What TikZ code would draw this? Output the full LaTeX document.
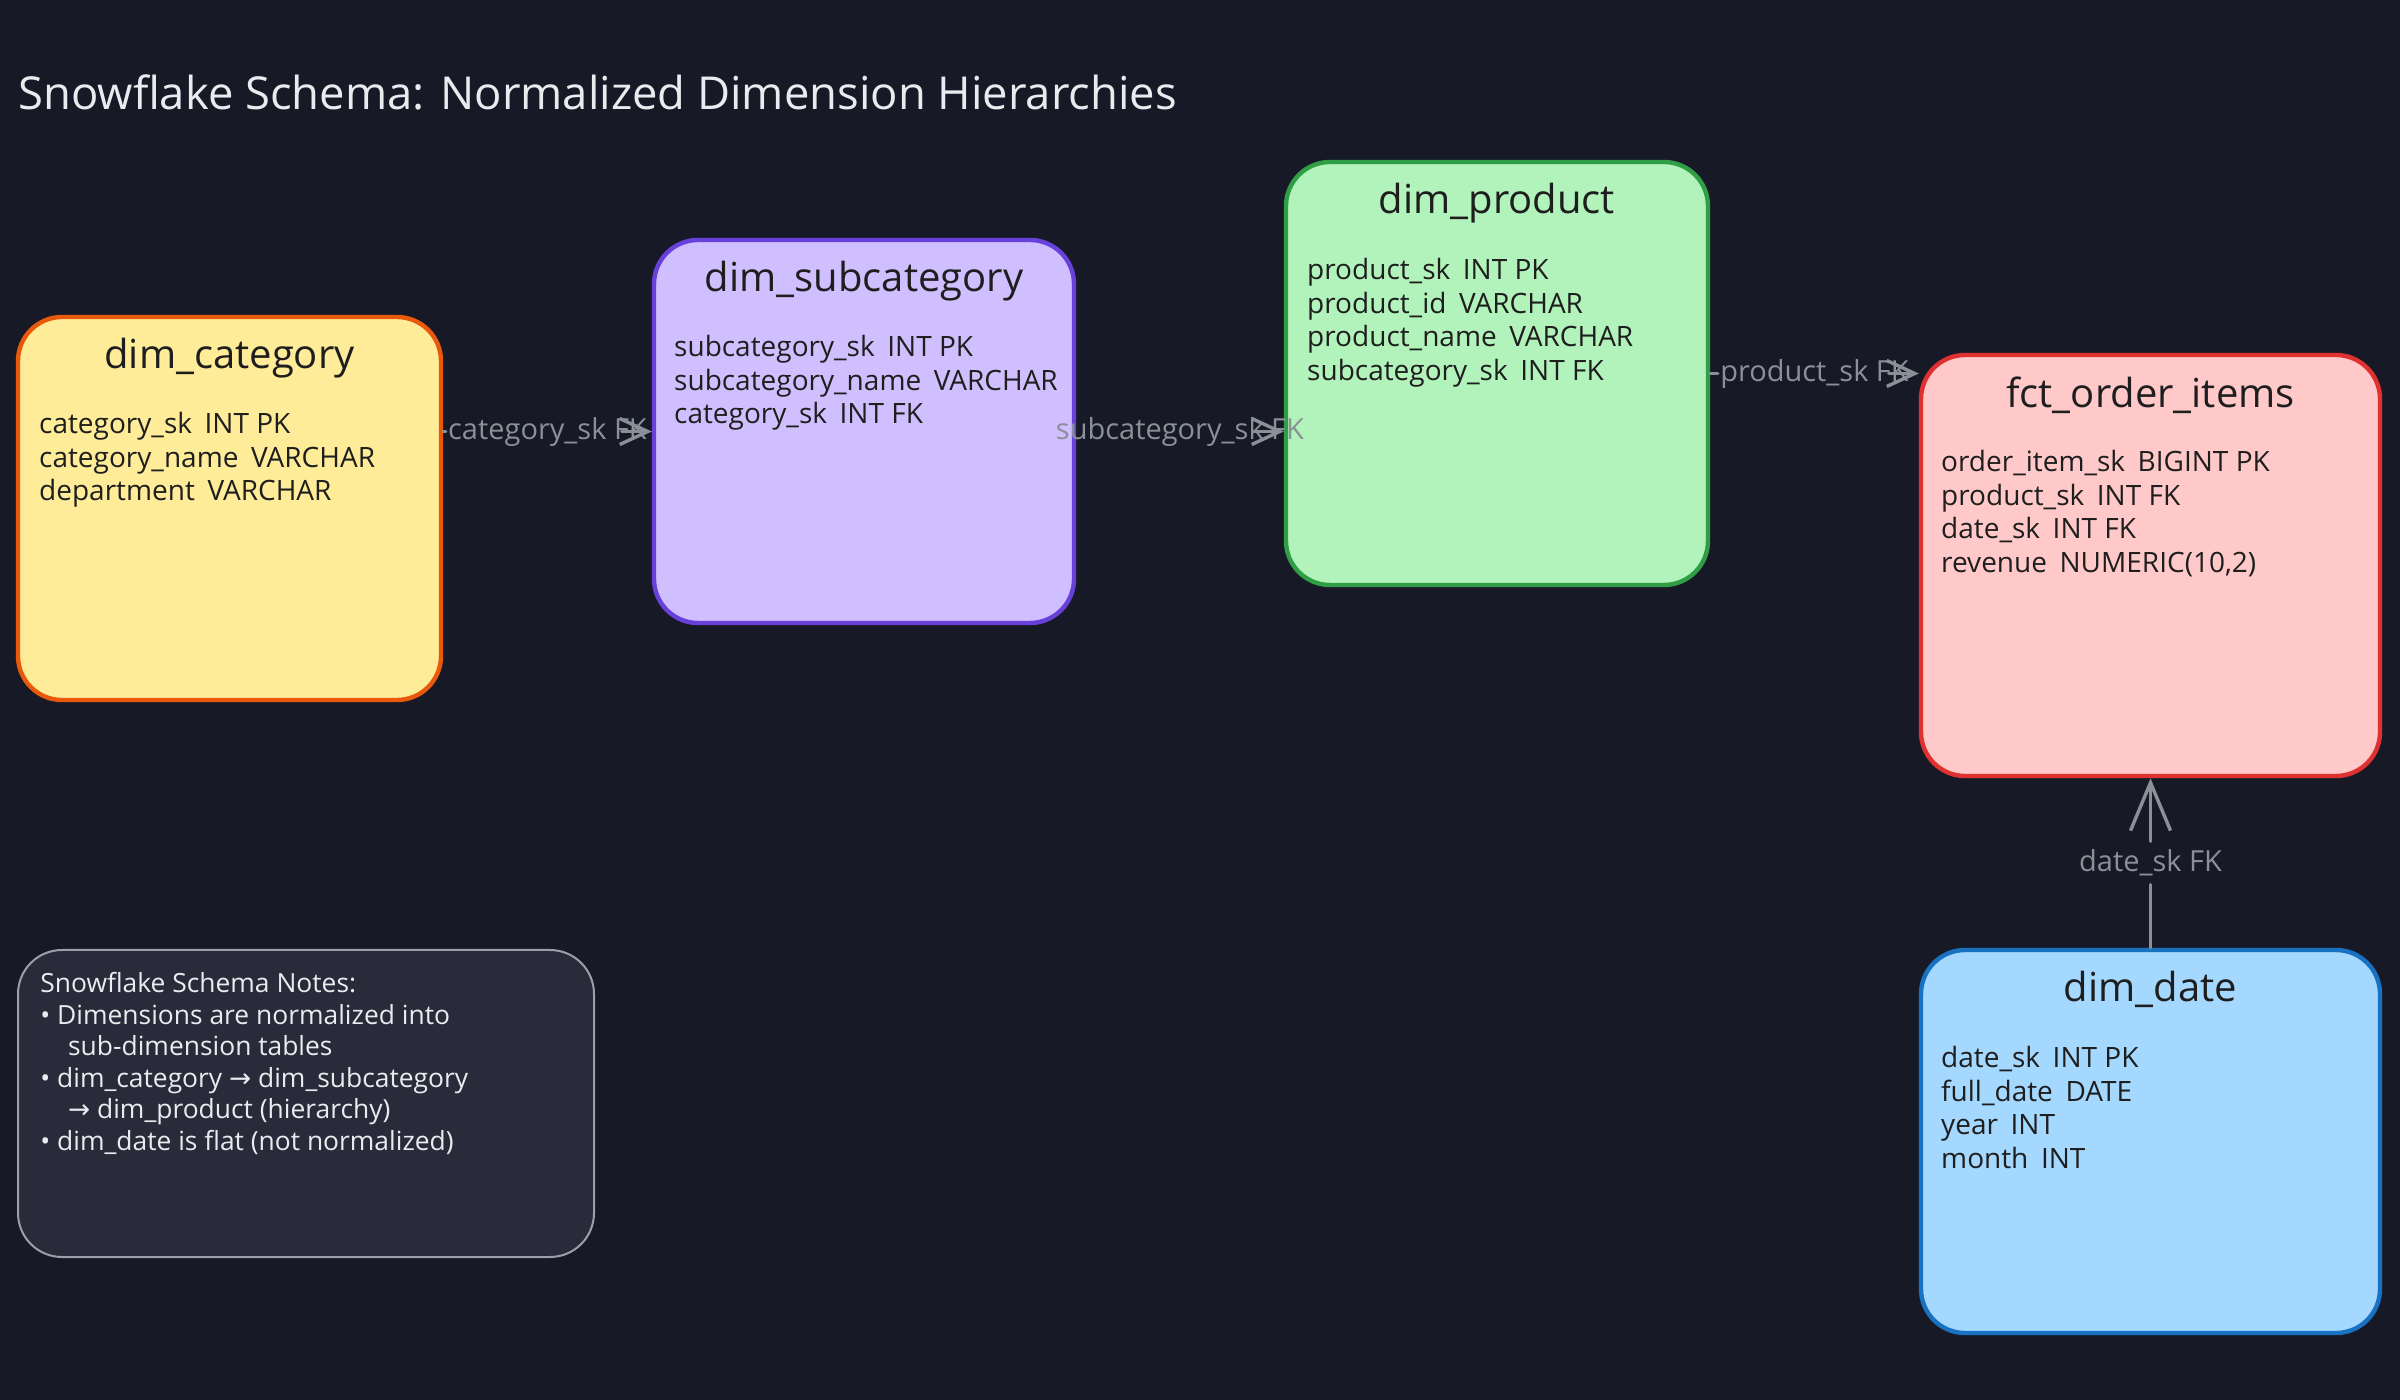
\documentclass[tikz,border=0pt]{standalone}
\usepackage{fontspec}
\setmainfont{Open Sans}
\newfontfamily\symfont{DejaVu Sans}
\usetikzlibrary{arrows.meta,calc}
\definecolor{bg}{HTML}{181926}
\definecolor{titlec}{HTML}{E9ECEF}
\definecolor{ink}{HTML}{1E1E1E}
\definecolor{catF}{HTML}{FFEC99}
\definecolor{catS}{HTML}{E8590C}
\definecolor{subF}{HTML}{D0BFFF}
\definecolor{subS}{HTML}{6741D9}
\definecolor{prodF}{HTML}{B2F2BB}
\definecolor{prodS}{HTML}{2F9E44}
\definecolor{fctF}{HTML}{FFC9C9}
\definecolor{fctS}{HTML}{E03131}
\definecolor{dateF}{HTML}{A5D8FF}
\definecolor{dateS}{HTML}{1971C2}
\definecolor{noteF}{HTML}{2A2A3A}
\definecolor{noteS}{HTML}{9AA0A8}
\definecolor{fkgray}{HTML}{8A9098}
\newcommand\colgap{\hspace{0.45em}}
\newcommand\arr{{\symfont →}}
\tikzset{
  tbl/.style={draw, line width=2.2pt, rounded corners=22pt, inner sep=0pt},
  tbltitle/.style={text=ink, inner sep=0pt, font=\fontsize{20}{24}\selectfont},
  fields/.style={text=ink, inner sep=0pt, anchor=north west, align=left, font=\fontsize{14}{16.85}\selectfont},
  fkline/.style={draw=fkgray, line width=1.7pt, line cap=round},
  fktip/.style={fkline, -{Straight Barb[length=14pt,width=13pt,line width=1.7pt]}},
  fktipbig/.style={fkline, -{Straight Barb[length=24pt,width=20pt,line width=1.7pt]}},
  fklabel/.style={text=fkgray, inner xsep=1pt, inner ysep=4pt, font=\fontsize{14.5}{16}\selectfont},
}
\begin{document}
\begin{tikzpicture}[x=0.5pt,y=-0.5pt]
\fill[bg] (0,0) rectangle (2400,1400);
\useasboundingbox (0,0) rectangle (2400,1400);

\node[anchor=west, text=titlec, inner sep=0pt, font=\fontsize{22.7}{27}\selectfont] (title) at (18,92)
  {Snowflake Schema: Normalized Dimension Hierarchies};

% tables
\node[tbl, draw=catS, fill=catF, minimum width=211.5pt, minimum height=191.5pt] (cat) at (229.5,508.5) {};
\node[tbl, draw=subS, fill=subF, minimum width=210pt, minimum height=191.5pt] (sub) at (864,431.5) {};
\node[tbl, draw=prodS, fill=prodF, minimum width=211pt, minimum height=211.5pt] (prod) at (1497,373.5) {};
\node[tbl, draw=fctS, fill=fctF, minimum width=229.5pt, minimum height=210.5pt] (fct) at (2150.5,565.5) {};
\node[tbl, draw=dateS, fill=dateF, minimum width=229.5pt, minimum height=191.5pt] (date) at (2150.5,1141.5) {};

\node[tbltitle] (catT) at ($(cat.north)+(0,43)$) {dim\_category};
\node[tbltitle] (subT) at ($(sub.north)+(0,43)$) {dim\_subcategory};
\node[tbltitle] (prodT) at ($(prod.north)+(0,43)$) {dim\_product};
\node[tbltitle] (fctT) at ($(fct.north)+(0,42)$) {fct\_order\_items};
\node[tbltitle] (dateT) at ($(date.north)+(0,42)$) {dim\_date};

\node[fields] (catF) at ($(cat.north west)+(23,97)$)
  {category\_sk\colgap INT PK\\category\_name\colgap VARCHAR\\department\colgap VARCHAR};
\node[fields] (subF) at ($(sub.north west)+(22,97)$)
  {subcategory\_sk\colgap INT PK\\subcategory\_name\colgap VARCHAR\\category\_sk\colgap INT FK};
\node[fields] (prodF) at ($(prod.north west)+(23,98)$)
  {product\_sk\colgap INT PK\\product\_id\colgap VARCHAR\\product\_name\colgap VARCHAR\\subcategory\_sk\colgap INT FK};
\node[fields] (fctF) at ($(fct.north west)+(22,97)$)
  {order\_item\_sk\colgap BIGINT PK\\product\_sk\colgap INT FK\\date\_sk\colgap INT FK\\revenue\colgap NUMERIC(10,2)};
\node[fields] (dateF) at ($(date.north west)+(22,98)$)
  {date\_sk\colgap INT PK\\full\_date\colgap DATE\\year\colgap INT\\month\colgap INT};

% notes
\node[draw=noteS, fill=noteF, line width=1pt, rounded corners=22pt, inner sep=0pt,
  minimum width=288pt, minimum height=153.5pt] (notes) at (306,1103.5) {};
\node[text=titlec, inner sep=0pt, anchor=north west, align=left, font=\fontsize{13.2}{15.75}\selectfont]
  (notesT) at ($(notes.north west)+(23,23)$)
  {Snowflake Schema Notes:\\
   • Dimensions are normalized into\\
   \hspace{1.05em}sub-dimension tables\\
   • dim\_category \arr{} dim\_subcategory\\
   \hspace{1.05em}\arr{} dim\_product (hierarchy)\\
   • dim\_date is flat (not normalized)};

% connectors
\coordinate (a1s) at (cat.east |- sub.west);
\node[fklabel] (l1) at ($(a1s)!0.5!(sub.west)$) {category\_sk FK};
\draw[fkline] (a1s) -- (l1.west);
\draw[fktip] ($(sub.west)+(-30,0)$) -- (sub.west);

\coordinate (a2e) at (sub.east -| prod.west);
\node[fklabel] (l2) at ($(sub.east)!0.5!(a2e)$) {subcategory\_sk FK};
\draw[fktip] ($(a2e)+(-30,0)$) -- (a2e);

\coordinate (a3e) at (prod.east -| fct.west);
\node[fklabel] (l3) at ($(prod.east)!0.5!(a3e)$) {product\_sk FK};
\draw[fkline] (prod.east) -- (l3.west);
\draw[fktip] ($(a3e)+(-30,0)$) -- (a3e);

\node[fklabel] (l4) at ($(date.north)!0.5!(fct.south)$) {date\_sk FK};
\draw[fkline] (date.north) -- (l4.south);
\draw[fktipbig] (l4.north) -- (fct.south);
\end{tikzpicture}
\end{document}
